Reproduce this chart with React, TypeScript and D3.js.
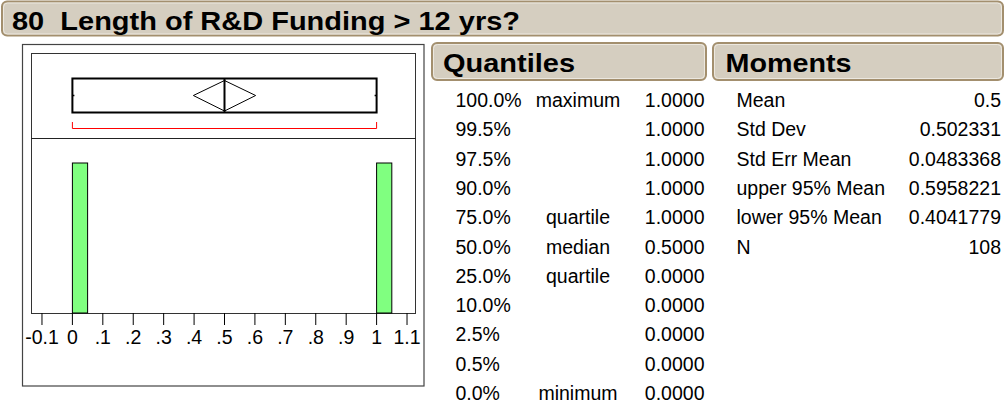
import React from "react";
import * as d3 from "d3";

const titleText = "80  Length of R&D Funding > 12 yrs?";

const tickValues = [-0.1, 0, 0.1, 0.2, 0.3, 0.4, 0.5, 0.6, 0.7, 0.8, 0.9, 1, 1.1];
const tickLabels = ["-0.1", "0", ".1", ".2", ".3", ".4", ".5", ".6", ".7", ".8", ".9", "1", "1.1"];

const binLower = [0, 1];
const binUpper = [0.05, 1.05];
const binCounts = [54, 54];

const boxMin = 0;
const boxQ1 = 0;
const boxMedian = 0.5;
const boxQ3 = 1;
const boxMax = 1;
const boxMean = 0.5;
const meanLower95 = 0.4041779;
const meanUpper95 = 0.5958221;
const shortestHalf = [0, 1];

const quantilePercents = ["100.0%", "99.5%", "97.5%", "90.0%", "75.0%", "50.0%", "25.0%", "10.0%", "2.5%", "0.5%", "0.0%"];
const quantileNames = ["maximum", "", "", "", "quartile", "median", "quartile", "", "", "", "minimum"];
const quantileValues = ["1.0000", "1.0000", "1.0000", "1.0000", "1.0000", "0.5000", "0.0000", "0.0000", "0.0000", "0.0000", "0.0000"];

const momentNames = ["Mean", "Std Dev", "Std Err Mean", "upper 95% Mean", "lower 95% Mean", "N"];
const momentValues = ["0.5", "0.502331", "0.0483368", "0.5958221", "0.4041779", "108"];

const FONT = "'Liberation Sans', Arial, Helvetica, sans-serif";
const BAR_FILL = "#d5cec0";
const BAR_STROKE = "#a38f6e";

export default function App() {
  const x = d3.scaleLinear().domain([0, 1]).range([72.4, 376.6]);
  const plotLeft = 31;
  const plotRight = 416;
  const plotTop = 53;
  const divider = 138;
  const axisY = 313;
  const y = d3.scaleLinear().domain([0, 63]).range([axisY, divider]);

  const boxTop = 78.5;
  const boxBot = 112.5;
  const boxMid = (boxTop + boxBot) / 2;

  const rowY = (i: number) => 107 + i * 29.3;

  const diamond = [
    [x(meanLower95) - 2, boxMid],
    [x(boxMean), boxTop + 2],
    [x(meanUpper95) + 2, boxMid],
    [x(boxMean), boxBot - 1.5],
  ];

  return (
    <svg
      width={1005}
      height={408}
      style={{ position: "absolute", left: 0, top: 0, background: "#fff" }}
      fontFamily={FONT}
    >
      {/* Title bar */}
      <rect x={2} y={1.5} width={1001} height={34} rx={5} fill={BAR_FILL} stroke={BAR_STROKE} strokeWidth={2} />
      <rect x={3.5} y={3} width={998} height={31} rx={4} fill="none" stroke="#ece8e0" strokeWidth={1} />
      <text
        x={12}
        y={29.5}
        fontSize={26}
        fontWeight="bold"
        fill="#000"
        textLength={508}
        lengthAdjust="spacingAndGlyphs"
        style={{ whiteSpace: "pre" }}
      >
        {titleText}
      </text>

      {/* Outer frame */}
      <rect x={22.5} y={44.5} width={401.5} height={341.5} fill="none" stroke="#444" strokeWidth={1.2} />

      {/* Inner plot frame */}
      <rect x={plotLeft + 0.5} y={plotTop + 0.5} width={plotRight - plotLeft - 1} height={axisY - plotTop} fill="none" stroke="#333" strokeWidth={1} />
      <line x1={plotLeft} x2={plotRight} y1={divider + 0.5} y2={divider + 0.5} stroke="#222" strokeWidth={1.2} />

      {/* Box plot */}
      <rect x={x(boxQ1)} y={boxTop} width={x(boxQ3) - x(boxQ1)} height={boxBot - boxTop} fill="none" stroke="#000" strokeWidth={2} />
      <line x1={x(boxMedian)} x2={x(boxMedian)} y1={boxTop} y2={boxBot} stroke="#000" strokeWidth={2} />
      <line x1={x(boxMin)} x2={x(boxMin) + 2} y1={boxMid} y2={boxMid} stroke="#000" strokeWidth={1.5} />
      <line x1={x(boxMax) - 2} x2={x(boxMax)} y1={boxMid} y2={boxMid} stroke="#000" strokeWidth={1.5} />
      <polygon points={diamond.map((p) => p.join(",")).join(" ")} fill="none" stroke="#000" strokeWidth={1} />

      {/* Shortest half bracket */}
      <path
        d={`M${x(shortestHalf[0])},122 V128.5 H${x(shortestHalf[1])} V122`}
        fill="none"
        stroke="#ff0000"
        strokeWidth={1}
      />

      {/* Histogram bars */}
      {binLower.map((lo, i) => (
        <rect
          key={i}
          x={x(lo)}
          y={y(binCounts[i])}
          width={x(binUpper[i]) - x(lo)}
          height={axisY - y(binCounts[i])}
          fill="#80ff80"
          stroke="#000"
          strokeWidth={1}
        />
      ))}

      {/* Axis ticks */}
      {tickValues.map((v, i) => (
        <g key={i}>
          <line x1={x(v)} x2={x(v)} y1={axisY} y2={axisY + 12} stroke="#000" strokeWidth={1} />
          <text x={x(v)} y={344} fontSize={19.5} textAnchor="middle" fill="#000">
            {tickLabels[i]}
          </text>
        </g>
      ))}

      {/* Quantiles header */}
      <rect x={432} y={43} width={274} height={37} rx={5} fill={BAR_FILL} stroke={BAR_STROKE} strokeWidth={2} />
      <rect x={433.5} y={44.5} width={271} height={34} rx={4} fill="none" stroke="#ece8e0" strokeWidth={1} />
      <text x={443} y={71.5} fontSize={26} fontWeight="bold" textLength={132} lengthAdjust="spacingAndGlyphs">
        Quantiles
      </text>

      {/* Moments header */}
      <rect x={713} y={43} width={290} height={37} rx={5} fill={BAR_FILL} stroke={BAR_STROKE} strokeWidth={2} />
      <rect x={714.5} y={44.5} width={287} height={34} rx={4} fill="none" stroke="#ece8e0" strokeWidth={1} />
      <text x={725.5} y={71.5} fontSize={26} fontWeight="bold" textLength={126} lengthAdjust="spacingAndGlyphs">
        Moments
      </text>

      {/* Quantiles table */}
      {quantilePercents.map((p, i) => (
        <g key={i} fontSize={19.5} fill="#000">
          <text x={455.5} y={rowY(i)}>{p}</text>
          <text x={578} y={rowY(i)} textAnchor="middle">{quantileNames[i]}</text>
          <text x={704.5} y={rowY(i)} textAnchor="end">{quantileValues[i]}</text>
        </g>
      ))}

      {/* Moments table */}
      {momentNames.map((m, i) => (
        <g key={i} fontSize={19.5} fill="#000">
          <text x={736.5} y={rowY(i)}>{m}</text>
          <text x={1001} y={rowY(i)} textAnchor="end">{momentValues[i]}</text>
        </g>
      ))}
    </svg>
  );
}
